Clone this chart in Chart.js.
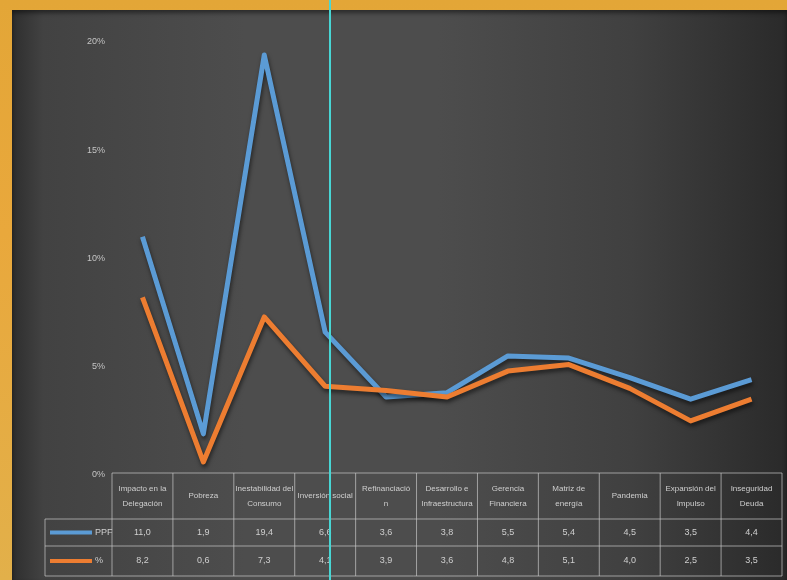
<!DOCTYPE html>
<html>
<head>
<meta charset="utf-8">
<script src="https://cdn.jsdelivr.net/npm/chart.js@4"></script>
<style>
  html, body { margin: 0; padding: 0; }
  body {
    width: 787px; height: 580px; overflow: hidden; position: relative;
    background: linear-gradient(to bottom, #e3a637, #e9a83c 40%, #e2b04a);
  }
  #panel {
    position: absolute; left: 12px; top: 10px; width: 775px; height: 570px;
    background: linear-gradient(to right, #2e2e2e 0%, #424242 4%, #4d4d4d 30%, #4d4d4d 55%, #404040 80%, #2a2a2a 100%);
    box-shadow: inset 0 3px 4px rgba(0,0,0,0.45);
  }
  #guide {
    position: absolute; left: 329px; top: 0; width: 2px; height: 580px;
    background: #48d6d4;
  }
</style>
</head>
<body>
<div id="panel"><canvas id="myChart" width="775" height="570"></canvas></div>
<div id="guide"></div>
<script>
const categories = [
	["Impacto en la", "Delegación"],
	["Pobreza"],
	["Inestabilidad del", "Consumo"],
	["Inversión social"],
	["Refinanciació", "n"],
	["Desarrollo e", "Infraestructura"],
	["Gerencia", "Financiera"],
	["Matriz de", "energía"],
	["Pandemia"],
	["Expansión del", "Impulso"],
	["Inseguridad", "Deuda"],
];
const seriesNames = ["PPF", "%"];
const ppfValues = [11.0, 1.9, 19.4, 6.6, 3.6, 3.8, 5.5, 5.4, 4.5, 3.5, 4.4];
const pctValues = [8.2, 0.6, 7.3, 4.1, 3.9, 3.6, 4.8, 5.1, 4.0, 2.5, 3.5];
const tickLabels = ["0%", "5%", "10%", "15%", "20%"];

const BLUE = "#5b9bd5";
const ORANGE = "#ed7d31";
const fmt = (v) => v.toFixed(1).replace(".", ",");

// sombra bajo las líneas
const shadowPlugin = {
	id: "lineShadow",
	beforeDatasetDraw(chart) {
		const c = chart.ctx;
		c.save();
		c.shadowColor = "rgba(0,0,0,0.55)";
		c.shadowBlur = 4;
		c.shadowOffsetX = 1;
		c.shadowOffsetY = 3;
	},
	afterDatasetDraw(chart) {
		chart.ctx.restore();
	},
};

// tabla de datos debajo del gráfico
const tablePlugin = {
	id: "dataTable",
	afterDraw(chart) {
		const c = chart.ctx;
		const x = chart.scales.x;
		const area = chart.chartArea;
		const step = x.getPixelForValue(1) - x.getPixelForValue(0);
		const left = x.getPixelForValue(0) - step / 2;
		const right = x.getPixelForValue(categories.length - 1) + step / 2;
		const legendLeft = 33;
		const rows = [area.bottom - 2, area.bottom + 44, area.bottom + 71, area.bottom + 101];

		c.save();
		c.strokeStyle = "rgba(200,200,200,0.7)";
		c.lineWidth = 1;
		c.beginPath();
		c.moveTo(left, rows[0]); c.lineTo(right, rows[0]);
		for (let r = 1; r < rows.length; r++) {
			c.moveTo(legendLeft, rows[r]); c.lineTo(right, rows[r]);
		}
		for (let i = 0; i <= categories.length; i++) {
			const px = left + i * step;
			c.moveTo(px, rows[0]); c.lineTo(px, rows[3]);
		}
		c.moveTo(legendLeft, rows[1]); c.lineTo(legendLeft, rows[3]);
		c.stroke();

		c.fillStyle = "#cfcfcf";
		c.textAlign = "center";
		c.textBaseline = "middle";
		c.font = "8px 'Liberation Sans Narrow', 'Liberation Sans', sans-serif";
		categories.forEach((lines, i) => {
			const cx = x.getPixelForValue(i);
			const mid = (rows[0] + rows[1]) / 2;
			lines.forEach((t, k) => {
				c.fillText(t, cx, mid + (k - (lines.length - 1) / 2) * 15);
			});
		});

		c.font = "9px 'Liberation Sans', sans-serif";
		const series = [ppfValues, pctValues];
		const colors = [BLUE, ORANGE];
		series.forEach((vals, s) => {
			const mid = (rows[s + 1] + rows[s + 2]) / 2;
			vals.forEach((v, i) => {
				c.fillText(fmt(v), x.getPixelForValue(i), mid);
			});
			c.strokeStyle = colors[s];
			c.lineWidth = 4;
			c.beginPath();
			c.moveTo(legendLeft + 5, mid);
			c.lineTo(legendLeft + 47, mid);
			c.stroke();
			c.textAlign = "left";
			c.fillText(seriesNames[s], legendLeft + 50, mid);
			c.textAlign = "center";
		});
		c.restore();
	},
};

const ctx = document.getElementById("myChart");

const myChart = new Chart(ctx, {
	type: "line",
	data: {
		labels: categories.map((l) => l.join(" ")),
		datasets: [
			{
				label: seriesNames[0],
				data: ppfValues,
				borderColor: BLUE,
				backgroundColor: BLUE,
				borderWidth: 5,
				borderJoinStyle: "round",
				pointRadius: 0,
				tension: 0,
				order: 1,
			},
			{
				label: seriesNames[1],
				data: pctValues,
				borderColor: ORANGE,
				backgroundColor: ORANGE,
				borderWidth: 5,
				borderJoinStyle: "round",
				pointRadius: 0,
				tension: 0,
				order: 0,
			},
		],
	},
	options: {
		responsive: false,
		animation: false,
		layout: {
			padding: { top: 32, bottom: 105, left: 0, right: 5 },
		},
		plugins: {
			legend: { display: false },
			tooltip: { enabled: false },
		},
		scales: {
			x: {
				display: false,
				offset: true,
			},
			y: {
				min: 0,
				max: 20,
				border: { display: false },
				grid: { display: false, drawTicks: false },
				afterFit(scale) {
					scale.width = 100;
				},
				afterBuildTicks(scale) {
					scale.ticks = tickLabels.map((t, i) => ({ value: i * 5 }));
				},
				ticks: {
					padding: 7,
					color: "#c4c4c4",
					font: { size: 9, family: "'Liberation Sans', sans-serif" },
					callback: (v) => tickLabels[v / 5],
				},
			},
		},
	},
	plugins: [shadowPlugin, tablePlugin],
});
</script>
</body>
</html>
